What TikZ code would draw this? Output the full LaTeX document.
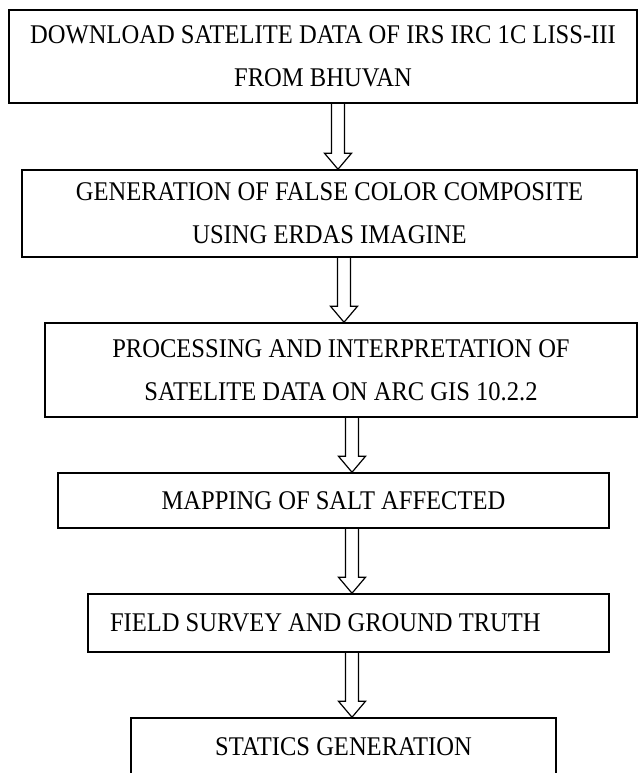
\documentclass[tikz,border=0pt]{standalone}
\usepackage{fontspec}
\setmainfont[FakeStretch=0.91]{Liberation Serif}
\usetikzlibrary{calc}
\begin{document}
\begin{tikzpicture}[x=1pt, y=-1pt,
                    every node/.style={draw, rectangle, line width=1.5pt,
                                       inner sep=0pt, align=center,
                                       font=\fontsize{27}{43}\selectfont},
                    hollow/.style={line width=1.2pt, line join=miter}]
    \useasboundingbox (0,0) rectangle (640,773);
    \node[minimum width=628pt, minimum height=93pt] (1) at (323,56.5)
        {DOWNLOAD SATELITE DATA OF IRS IRC 1C LISS-III\\FROM BHUVAN};
    \node[minimum width=615pt, minimum height=87pt] (2) at (329.5,213.5)
        {GENERATION OF FALSE COLOR COMPOSITE\\USING ERDAS IMAGINE};
    \node[minimum width=592pt, minimum height=94pt] (3) at (341,370)
        {PROCESSING AND INTERPRETATION OF\\SATELITE DATA ON ARC GIS 10.2.2};
    \node[minimum width=551pt, minimum height=55pt] (4) at (333.5,500.5)
        {MAPPING OF SALT AFFECTED};
    \node[minimum width=521pt, minimum height=58pt] (5) at (348.5,623)
        {\makebox[477pt][l]{FIELD SURVEY AND GROUND TRUTH}};
    \node[minimum width=425pt, minimum height=58pt] (6) at (343.5,747)
        {STATICS GENERATION};
    \foreach \a/\b/\x in {1/2/338, 2/3/344, 3/4/352, 4/5/352, 5/6/352}{
        \coordinate (s) at (\x,0 |- \a.south);
        \coordinate (t) at (\x,0 |- \b.north);
        \draw[hollow] ([xshift=-6.5pt]s) -- ([shift={(-6.5,-16)}]t)
            -- ([shift={(-13.5,-16)}]t) -- (t) -- ([shift={(13.5,-16)}]t)
            -- ([shift={(6.5,-16)}]t) -- ([xshift=6.5pt]s);
    }
\end{tikzpicture}
\end{document}
